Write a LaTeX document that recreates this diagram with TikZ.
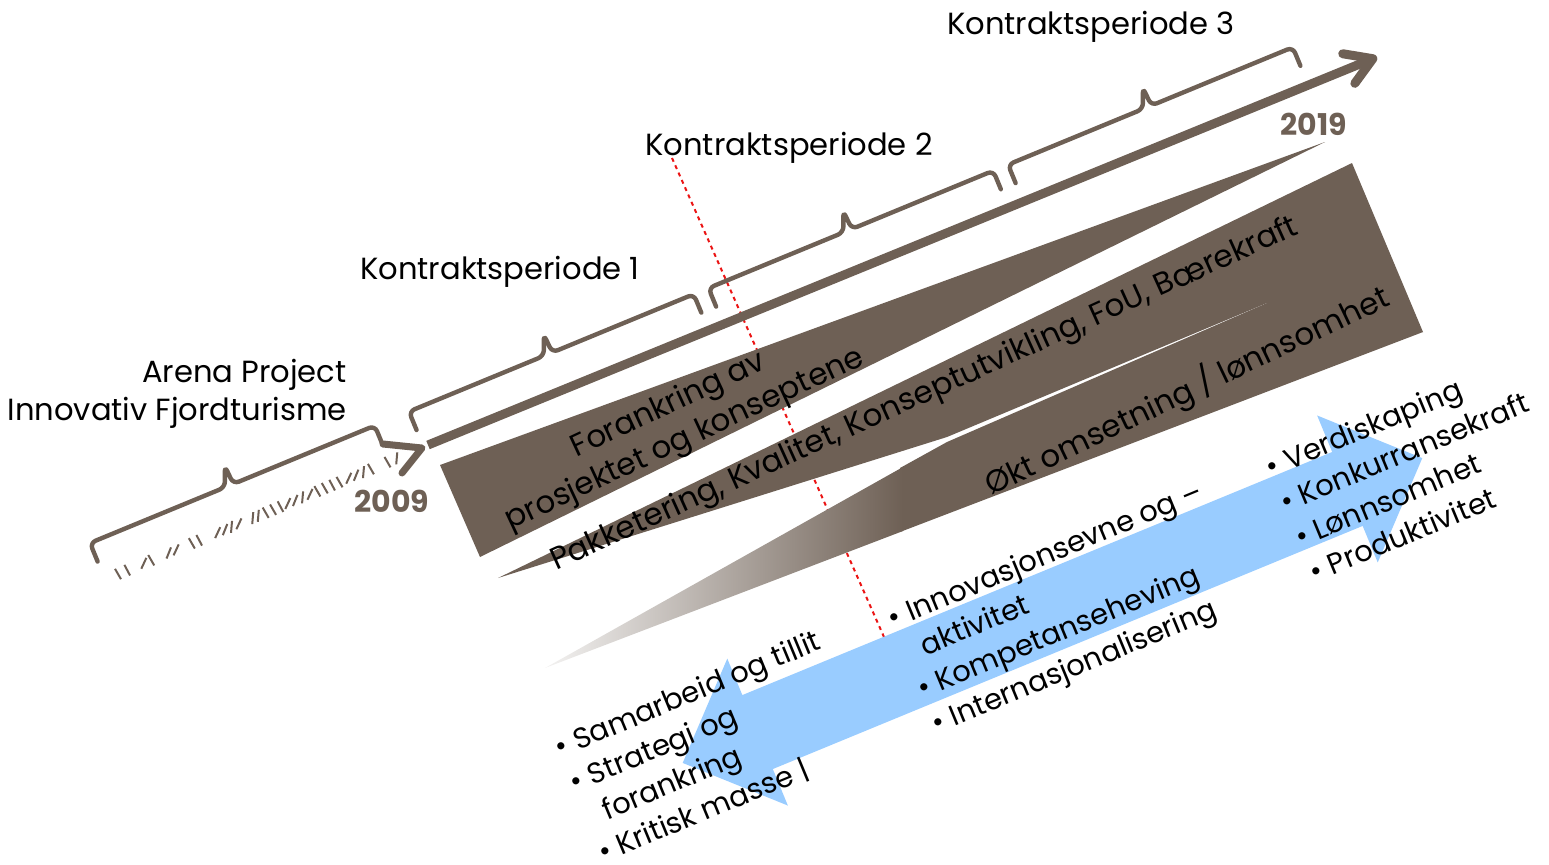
\documentclass[tikz,border=0pt]{standalone}
\usepackage{fontspec}
\setmainfont{Poppins}
\usetikzlibrary{arrows.meta}
\definecolor{bark}{RGB}{110,96,85}
\definecolor{sky}{RGB}{153,204,255}
\definecolor{dotred}{RGB}{235,20,20}
\tikzset{
  brc/.style={draw=bark, line width=2.2pt, line cap=round, rounded corners=3pt},
  hatch/.style={draw=bark, line width=1pt},
  lbl/.style={font=\fontsize{15.3}{19}\selectfont, inner sep=0pt},
  yr/.style={font=\fontsize{15}{18}\selectfont\bfseries, text=bark, inner sep=0pt},
  band/.style={font=\fontsize{15.5}{19}\selectfont, inner sep=0pt, align=center},
  blist/.style={font=\fontsize{14.5}{19}\selectfont, inner sep=0pt, align=left, anchor=north west, rotate=22.5},
}
\begin{document}
\begin{tikzpicture}[x=0.5pt, y=-0.5pt, line join=round]
\useasboundingbox (0,0) rectangle (1549,864);

% red guide line, behind everything
\draw[dotred, line width=1pt, dash pattern=on 2pt off 2pt] (672,158) -- (884,637);

% old timeline before 2009
\foreach \d/\a in {0/60,10/62,28/115,36/60,55/112,63/115,80/60,88/62,108/115,116/112,123/95,131/115,146/95,152/95,160/60,168/60,176/62,184/115,192/112,200/95,208/115,216/60,224/60,232/62,240/60,250/115,258/112,266/95,274/60,292/60,302/95}
  \draw[hatch] ({118+0.923*\d},{574-0.383*\d}) ++(\a:6) -- ++({\a+180}:12);
\draw[bark, line width=3.5pt, line cap=round] (383,444) -- (422,448) -- (402,473);

% braces over the periods
\begin{scope}[shift={(90,543)}, rotate=22.4]
\foreach \s in {0,345,669,993}
  \draw[brc] (\s,20) -- (\s,0) -- (\s+146,0) -- (\s+154,-20) -- (\s+155,0) -- (\s+308,0) -- (\s+308,20);
\end{scope}

% main timeline
\draw[bark, line width=4.5pt, -{Straight Barb[length=13pt,width=16pt,round]}] (428,445) -- (1377,57);

% wedges
\fill[bark] (440,465) -- (1325,142) -- (480,557) -- cycle;
\fill[bark] (498,578) -- (1352,163) -- (1423,332) -- (1290,330) -- (1267,303) -- (947,437) -- cycle;
\fill[bark] (900,468) -- (947,442) -- (1267,303) -- (1423,332) -- (900,532) -- cycle;
\shade[left color=bark!8, right color=bark] (545,668) -- (903,467) -- (903,531) -- cycle;

% double arrow
\begin{scope}[shift={(1052.5,610.5)}, rotate=22.4]
\fill[sky] (-400,0) -- (-319,-79.5) -- (-319,-40) -- (319,-40) -- (319,-79.5) -- (400,0)
  -- (319,79.5) -- (319,40) -- (-319,40) -- (-319,79.5) -- cycle;
\end{scope}

% labels
\node[lbl, anchor=base east] (arena) at (347,382) {Arena Project};
\node[lbl, anchor=base east] (fjord) at (347,420) {Innovativ Fjordturisme};
\node[lbl, anchor=base] (kp1) at (500,279) {Kontraktsperiode 1};
\node[lbl, anchor=base] (kp2) at (789,155) {Kontraktsperiode 2};
\node[lbl, anchor=base] (kp3) at (1091,34) {Kontraktsperiode 3};
\node[yr, anchor=base] (y09) at (392,512) {2009};
\node[yr, anchor=base] (y19) at (1314,135) {2019};

\node[band, rotate=25] (fork) at (677,423) {Forankring av\\prosjektet og konseptene};
\node[band, rotate=24.4] (pakk) at (925,395) {Pakketering, Kvalitet, Konseptutvikling, FoU, Bærekraft};
\node[band, rotate=25.5] (okt) at (1187,391) {Økt omsetning / lønnsomhet};

\node[blist] (lft) at (551,737) {\textbullet\ Samarbeid og tillit\\\textbullet\ Strategi og\\\phantom{\textbullet\ }forankring\\\textbullet\ Kritisk masse |};
\node[blist] (mid) at (884,608) {\textbullet\ Innovasjonsevne og --\\\phantom{\textbullet\ }aktivitet\\\textbullet\ Kompetanseheving\\\textbullet\ Internasjonalisering};
\node[blist] (rgt) at (1262,457) {\textbullet\ Verdiskaping\\\textbullet\ Konkurransekraft\\\textbullet\ Lønnsomhet\\\textbullet\ Produktivitet};
\end{tikzpicture}
\end{document}
